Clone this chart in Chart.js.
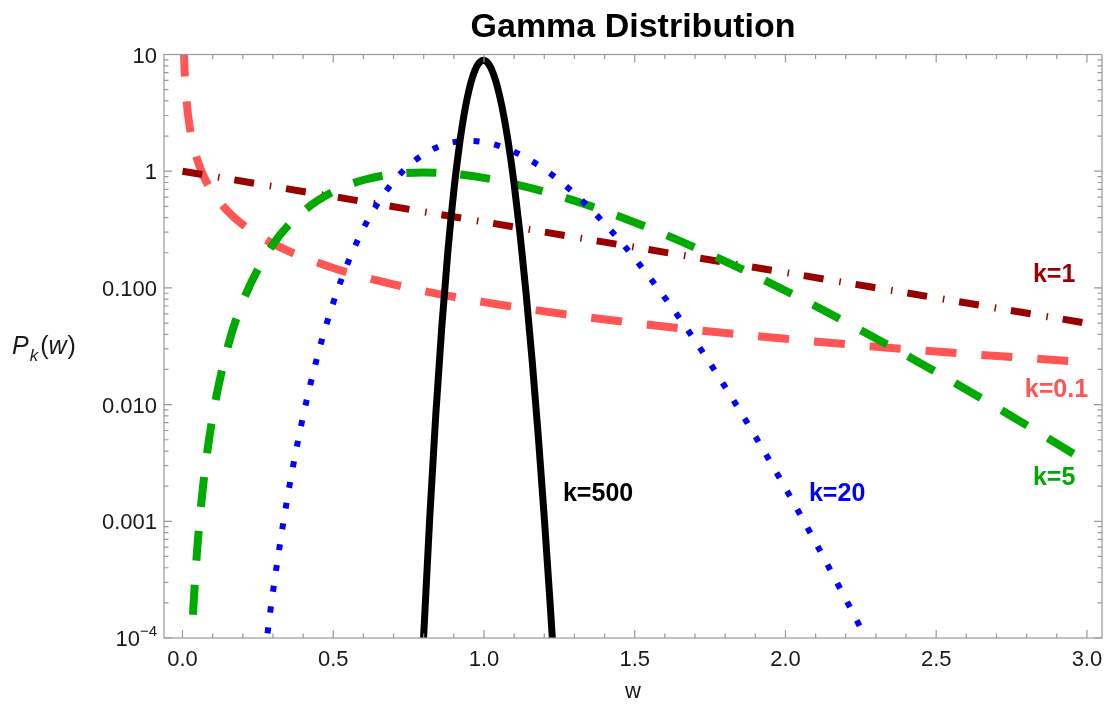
<!DOCTYPE html>
<html><head><meta charset="utf-8">
<script src="https://cdn.jsdelivr.net/npm/chart.js@4.4.1/dist/chart.umd.min.js"></script>
<style>html,body{margin:0;padding:0;background:#fff;}#wrap{width:1104px;height:708px;}</style>
</head><body><div id="wrap"><canvas id="c" width="1104" height="708"></canvas></div>
<script>
// ---- data ----
const seriesLabels = ['k=500', 'k=20', 'k=5', 'k=1', 'k=0.1'];

const wK01 = [0.004,0.005,0.007,0.01,0.015,0.02,0.03,0.05,0.075,0.1,0.15,0.2,0.3,0.5,0.75,1,1.5,2,2.5,3];
const pK01 = [12.0,9.83,7.26,5.263,3.653,2.817,1.954,1.231,0.8529,0.6566,0.4535,0.3484,0.2394,0.1482,0.1003,0.07554,0.04989,0.03663,0.02851,0.02301];

const wK1 = [0,0.5,1,1.5,2,2.5,3];
const pK1 = [1,0.6065,0.3679,0.2231,0.1353,0.08208,0.04979];

const wK5 = [0.02,0.03,0.04,0.05,0.07,0.1,0.15,0.2,0.3,0.4,0.5,0.6,0.7,0.8,0.9,1.0,1.2,1.4,1.6,1.8,2.0,2.25,2.5,2.75,3.0];
const pK5 = [1.882e-5,9.08e-5,2.727e-4,6.34e-4,2.203e-3,7.90e-3,0.03113,0.0766,0.2353,0.4511,0.6680,0.8401,0.9440,0.9768,0.9490,0.8773,0.6693,0.4561,0.2862,0.1687,0.09459,0.04341,0.01896,7.95e-3,3.226e-3];

const wK20 = [0.25,0.28,0.3,0.35,0.4,0.45,0.5,0.55,0.6,0.65,0.7,0.75,0.8,0.85,0.9,0.95,1.0,1.05,1.1,1.15,1.2,1.25,1.3,1.35,1.4,1.45,1.5,1.6,1.7,1.8,1.9,2.0,2.1,2.2,2.3];
const pK20 = [2.11e-5,9.99e-5,2.484e-4,1.710e-3,7.94e-3,0.02741,0.07463,0.1679,0.3227,0.5432,0.8170,1.1149,1.3979,1.6273,1.7735,1.8223,1.7766,1.6515,1.4705,1.2588,1.0396,0.8306,0.6438,0.4851,0.3562,0.2552,0.1788,0.08248,0.03533,0.01416,5.35e-3,1.920e-3,6.57e-4,2.151e-4,6.77e-5];

const wK500 = [0.78,0.80,0.82,0.84,0.86,0.88,0.90,0.91,0.92,0.93,0.94,0.95,0.96,0.97,0.98,0.99,1.00,1.01,1.02,1.03,1.04,1.05,1.06,1.07,1.08,1.09,1.10,1.12,1.14,1.16,1.18,1.20,1.22,1.24];
const pK500 = [7.54e-6,1.051e-4,1.071e-3,8.12e-3,0.04629,0.2017,0.6791,1.135,1.786,2.651,3.714,4.918,6.160,7.309,8.225,8.785,8.918,8.614,7.923,6.946,5.807,4.637,3.540,2.586,1.808,1.210,0.7773,0.2834,0.0881,0.02352,5.41e-3,1.078e-3,1.87e-4,2.83e-5];

const xTickValues = [0,0.5,1,1.5,2,2.5,3];
const xTickLabels = ['0.0','0.5','1.0','1.5','2.0','2.5','3.0'];
const yTickValues = [1e-4,1e-3,1e-2,1e-1,1,10];
const yTickLabels = ['10^-4','0.001','0.010','0.100','1','10'];

// label anchors (data coordinates, left / baseline)
const labelX = [1.262, 2.078, 2.821, 2.821, 2.794];
const labelY = [1.493e-3, 1.493e-3, 2.047e-3, 0.1124, 0.01161];

// ---- styles ----
const colors = ['#000000', '#0000ff', 'rgb(0,170,0)', '#990000', 'rgb(255,85,85)'];
const FONT = '"Liberation Sans", Arial, Helvetica, sans-serif';

function xy(ws, ps){ return ws.map((w,i)=>({x:w, y:ps[i]})); }

const base = {pointRadius:0, fill:false, cubicInterpolationMode:'monotone', clip:0, borderCapStyle:'butt', borderJoinStyle:'round'};
const datasets = [
  Object.assign({}, base, {label:seriesLabels[0], data:xy(wK500,pK500), borderColor:colors[0], borderWidth:7}),
  Object.assign({}, base, {label:seriesLabels[1], data:xy(wK20,pK20), borderColor:colors[1], borderWidth:6, borderDash:[6,15]}),
  Object.assign({}, base, {label:seriesLabels[2], data:xy(wK5,pK5), borderColor:colors[2], borderWidth:8, borderDash:[30,24]}),
  Object.assign({}, base, {label:seriesLabels[3], data:xy(wK1,pK1), borderColor:colors[3], borderWidth:7, borderDash:[20,16,1.5,15]}),
  Object.assign({}, base, {label:seriesLabels[4], data:xy(wK01,pK01), borderColor:colors[4], borderWidth:8, borderDash:[31,25]})
];

const framePlugin = {
  id:'frame',
  afterDatasetsDraw(chart){
    const {ctx, chartArea:a, scales} = chart;
    const sx = scales.x, sy = scales.y;
    ctx.save();
    // frame
    ctx.strokeStyle = '#999999'; ctx.lineWidth = 1.2;
    ctx.strokeRect(a.left, a.top, a.right - a.left, a.bottom - a.top);
    // ticks
    ctx.beginPath();
    const MAJ = 8, MIN = 4.5;
    for (let i = 0; i <= 30; i++) {
      const v = i / 10; const px = sx.getPixelForValue(v);
      const len = (i % 5 === 0) ? MAJ : MIN;
      ctx.moveTo(px, a.bottom); ctx.lineTo(px, a.bottom - len);
      ctx.moveTo(px, a.top); ctx.lineTo(px, a.top + len);
    }
    for (let e = -4; e <= 1; e++) {
      for (let m = 1; m <= 9; m++) {
        if (e === 1 && m > 1) break;
        const v = m * Math.pow(10, e);
        const py = sy.getPixelForValue(v);
        const len = (m === 1) ? MAJ : MIN;
        ctx.moveTo(a.left, py); ctx.lineTo(a.left + len, py);
        ctx.moveTo(a.right, py); ctx.lineTo(a.right - len, py);
      }
    }
    ctx.stroke();

    ctx.fillStyle = '#1a1a1a';
    // x tick labels
    ctx.font = '22px ' + FONT;
    ctx.textAlign = 'center'; ctx.textBaseline = 'alphabetic';
    xTickValues.forEach((v,i)=>{ ctx.fillText(xTickLabels[i], sx.getPixelForValue(v), 666); });
    // y tick labels
    ctx.textAlign = 'right';
    yTickValues.forEach((v,i)=>{
      const py = sy.getPixelForValue(v) + 8;
      const lab = yTickLabels[i];
      const rx = a.left - 7;
      if (lab.indexOf('^') >= 0) {
        const [b, s] = lab.split('^');
        ctx.font = '15px ' + FONT;
        const sup = s.replace('-', '\u2212');
        const sw = ctx.measureText(sup).width;
        ctx.fillText(sup, rx, py - 10);
        ctx.font = '22px ' + FONT;
        ctx.fillText(b, rx - sw, py);
      } else {
        ctx.font = '22px ' + FONT;
        ctx.fillText(lab, rx, py);
      }
    });
    // axis titles
    ctx.fillStyle = '#1a1a1a';
    ctx.textAlign = 'center';
    ctx.font = '22px ' + FONT;
    ctx.fillText('w', (a.left + a.right) / 2, 698);
    ctx.textAlign = 'left';
    let x0 = 12;
    ctx.font = 'italic 25px ' + FONT; ctx.fillText('P', x0, 354); x0 += ctx.measureText('P').width + 1;
    ctx.font = 'italic 17px ' + FONT; ctx.fillText('k', x0, 361); x0 += ctx.measureText('k').width + 2;
    ctx.font = '25px ' + FONT; ctx.fillText('(', x0, 354); x0 += ctx.measureText('(').width;
    ctx.font = 'italic 25px ' + FONT; ctx.fillText('w', x0, 354); x0 += ctx.measureText('w').width + 1;
    ctx.font = '25px ' + FONT; ctx.fillText(')', x0, 354);
    // title
    ctx.fillStyle = '#000';
    ctx.textAlign = 'center';
    ctx.font = 'bold 34px ' + FONT;
    ctx.fillText('Gamma Distribution', (a.left + a.right) / 2, 37);
    // curve labels
    ctx.textAlign = 'left';
    ctx.font = 'bold 25px ' + FONT;
    seriesLabels.forEach((t,i)=>{
      ctx.fillStyle = colors[i];
      ctx.fillText(t, sx.getPixelForValue(labelX[i]), sy.getPixelForValue(labelY[i]));
    });
    ctx.restore();
  }
};

new Chart(document.getElementById('c').getContext('2d'), {
  type: 'line',
  data: {datasets},
  options: {
    responsive: false, animation: false, devicePixelRatio: 1,
    layout: {padding: {top: 54.5, right: 2, left: 0, bottom: 0}},
    plugins: {legend: {display: false}, tooltip: {enabled: false}, title: {display: false}},
    scales: {
      x: {type: 'linear', min: -0.0614, max: 3.05, grid: {display: false}, border: {display: false}, ticks: {display: false},
          afterFit(s){ s.height = 70; }},
      y: {type: 'logarithmic', min: 1e-4, max: 10, grid: {display: false}, border: {display: false}, ticks: {display: false},
          afterFit(s){ s.width = 164; }}
    }
  },
  plugins: [framePlugin]
});
</script>
</body></html>
